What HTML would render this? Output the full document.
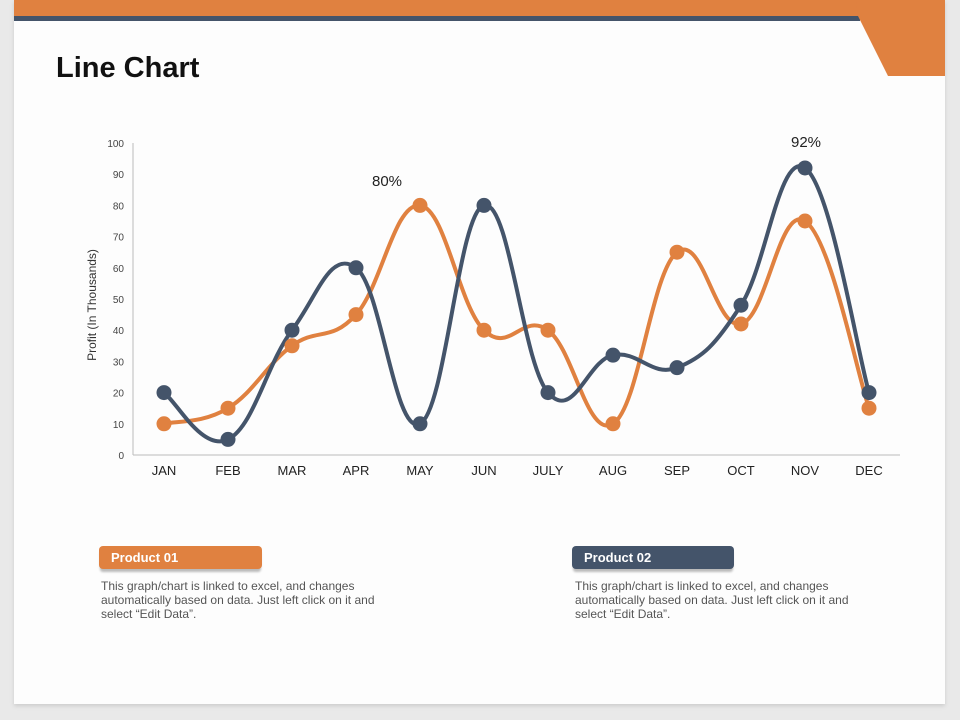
<!DOCTYPE html>
<html><head><meta charset="utf-8"><style>
body{margin:0;width:960px;height:720px;background:#e9e9e9;overflow:hidden;font-family:"Liberation Sans",sans-serif}
.card{position:absolute;left:14px;top:0;width:931px;height:704px;background:#fdfdfd;box-shadow:0 2px 4px #ccc}
.p{position:absolute;font-size:12px;color:#555;line-height:14px;width:300px}
.tag{position:absolute;height:23px;border-radius:4px;color:#fff;font-weight:bold;font-size:13px;line-height:24px;padding-left:12px;box-sizing:border-box;box-shadow:0 4px 2px -1px #bbb}
</style></head><body>
<div class="card"></div>
<svg width="960" height="720" style="position:absolute;left:0;top:0">
<rect x="14" y="0" width="931" height="16" fill="#e08140"/>
<rect x="14" y="16" width="846" height="5" fill="#44546a"/>
<polygon points="856,0 945,0 945,76 888,76 858,16" fill="#e08140"/>
<text x="56" y="77" font-family="Liberation Sans" font-weight="bold" font-size="29" fill="#111">Line Chart</text>
<g font-size="10" fill="#444" text-anchor="end" id="yt"></g>
<line x1="133" y1="143" x2="133" y2="455" stroke="#bbb"/>
<line x1="133" y1="455" x2="900" y2="455" stroke="#bbb"/>
<g id="xt" font-size="13" fill="#222" text-anchor="middle"></g>
<text transform="translate(96,305) rotate(-90)" font-size="12" fill="#333" text-anchor="middle">Profit (In Thousands)</text>
<path id="po" fill="none" stroke="#e08140" stroke-width="4"/>
<path id="pb" fill="none" stroke="#44546a" stroke-width="4"/>
<g id="dots"></g>
<text x="387" y="186" font-size="15" fill="#222" text-anchor="middle">80%</text>
<text x="806" y="147" font-size="15" fill="#222" text-anchor="middle">92%</text>
</svg>
<div class="tag" style="left:99px;top:546px;width:163px;background:#e08140">Product 01</div>
<div class="p" style="left:101px;top:579px">This graph/chart is linked to excel, and changes automatically based on data. Just left click on it and select “Edit Data”.</div>
<div class="tag" style="left:572px;top:546px;width:162px;background:#44546a">Product 02</div>
<div class="p" style="left:575px;top:579px">This graph/chart is linked to excel, and changes automatically based on data. Just left click on it and select “Edit Data”.</div>
<script>
var ns="http://www.w3.org/2000/svg";
var xs=[164,228,292,356,420,484,548,613,677,741,805,869];
var mon=["JAN","FEB","MAR","APR","MAY","JUN","JULY","AUG","SEP","OCT","NOV","DEC"];
function Y(v){return 455-v*3.12}
var yt=document.getElementById("yt");
for(var v=0;v<=100;v+=10){var t=document.createElementNS(ns,"text");t.setAttribute("x",124);t.setAttribute("y",Y(v)+4);t.textContent=v;yt.appendChild(t);}
var xt=document.getElementById("xt");
mon.forEach(function(m,i){var t=document.createElementNS(ns,"text");t.setAttribute("x",xs[i]);t.setAttribute("y",475);t.textContent=m;xt.appendChild(t);});
var o=[10,15,35,45,80,40,40,10,65,42,75,15],b=[20,5,40,60,10,80,20,32,28,48,92,20];
var k=5;
function path(d){var p=d.map(function(v,i){return[xs[i],Y(v)]});var s="M"+p[0];
for(var i=0;i<p.length-1;i++){var p0=p[i-1]||p[i],p1=p[i],p2=p[i+1],p3=p[i+2]||p2;
var c1=[p1[0]+(p2[0]-p0[0])/k,p1[1]+(p2[1]-p0[1])/k],c2=[p2[0]-(p3[0]-p1[0])/k,p2[1]-(p3[1]-p1[1])/k];
s+=" C"+c1+" "+c2+" "+p2;}return s;}
document.getElementById("po").setAttribute("d",path(o));
document.getElementById("pb").setAttribute("d",path(b));
var g=document.getElementById("dots");
[[o,"#e08140"],[b,"#44546a"]].forEach(function(a){a[0].forEach(function(v,i){var c=document.createElementNS(ns,"circle");c.setAttribute("cx",xs[i]);c.setAttribute("cy",Y(v));c.setAttribute("r",7.5);c.setAttribute("fill",a[1]);g.appendChild(c);});});
</script>
</body></html>
